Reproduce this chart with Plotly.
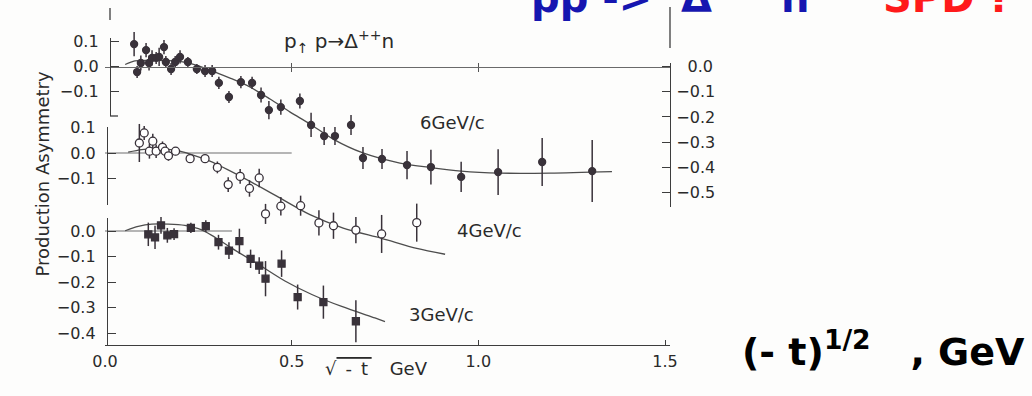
import plotly.graph_objects as go

# ---------------- data: production asymmetry vs sqrt(-t) ----------------
# 6 GeV/c (filled circles)
t6 = [0.078, 0.086, 0.096, 0.110, 0.118, 0.126, 0.137, 0.145, 0.158, 0.163,
      0.177, 0.188, 0.201, 0.222, 0.246, 0.268, 0.287, 0.305, 0.332, 0.364,
      0.394, 0.418, 0.439, 0.471, 0.522, 0.552, 0.587, 0.616, 0.659, 0.691,
      0.742, 0.809, 0.873, 0.954, 1.053, 1.171, 1.305]
asym6 = [0.089, -0.022, 0.014, 0.065, 0.014, 0.034, 0.034, 0.038, 0.077, 0.018,
         -0.010, 0.018, 0.038, 0.018, -0.010, -0.018, -0.018, -0.065, -0.121, -0.062,
         -0.065, -0.113, -0.173, -0.161, -0.137, -0.232, -0.276, -0.276, -0.232, -0.363,
         -0.367, -0.391, -0.399, -0.438, -0.419, -0.379, -0.415]
err6 = [0.048, 0.024, 0.030, 0.028, 0.030, 0.030, 0.024, 0.036, 0.028, 0.024,
        0.024, 0.024, 0.026, 0.020, 0.020, 0.024, 0.024, 0.024, 0.024, 0.024,
        0.024, 0.030, 0.036, 0.030, 0.030, 0.048, 0.036, 0.036, 0.040, 0.044,
        0.040, 0.056, 0.069, 0.060, 0.091, 0.095, 0.123]

# 4 GeV/c (open circles)
t4 = [0.092, 0.105, 0.119, 0.128, 0.137, 0.154, 0.161, 0.170, 0.189, 0.228,
      0.268, 0.301, 0.330, 0.362, 0.387, 0.413, 0.430, 0.471, 0.524, 0.573,
      0.612, 0.672, 0.741, 0.835]
asym4 = [0.039, 0.078, 0.007, 0.046, 0.007, 0.022, 0.007, -0.011, 0.007, -0.022,
         -0.022, -0.056, -0.123, -0.091, -0.138, -0.097, -0.237, -0.207, -0.205, -0.272,
         -0.283, -0.300, -0.315, -0.271]
err4 = [0.074, 0.027, 0.029, 0.029, 0.026, 0.023, 0.019, 0.019, 0.016, 0.016,
        0.016, 0.023, 0.029, 0.029, 0.032, 0.036, 0.039, 0.036, 0.039, 0.049,
        0.051, 0.051, 0.074, 0.074]

# 3 GeV/c (filled squares)
t3 = [0.116, 0.134, 0.150, 0.167, 0.185, 0.230, 0.270, 0.304, 0.332, 0.360,
      0.390, 0.413, 0.430, 0.473, 0.516, 0.585, 0.672]
asym3 = [-0.013, -0.025, 0.022, -0.017, -0.012, 0.012, 0.019, -0.044, -0.077, -0.040,
         -0.109, -0.136, -0.187, -0.128, -0.259, -0.279, -0.354]
err3 = [0.046, 0.046, 0.033, 0.029, 0.023, 0.020, 0.023, 0.029, 0.033, 0.049,
        0.036, 0.033, 0.069, 0.052, 0.049, 0.065, 0.082]

# fitted curves
fit6_t = [0.054, 0.080, 0.121, 0.188, 0.228, 0.281, 0.335, 0.388, 0.442, 0.496,
          0.549, 0.611, 0.691, 0.790, 0.873, 0.954, 1.058, 1.192, 1.358]
fit6_a = [0.008, 0.022, 0.024, 0.022, 0.012, -0.014, -0.046, -0.081, -0.129, -0.181,
          -0.228, -0.288, -0.343, -0.383, -0.401, -0.415, -0.423, -0.423, -0.417]
fit4_t = [0.062, 0.098, 0.138, 0.188, 0.228, 0.281, 0.371, 0.460, 0.549, 0.638,
          0.741, 0.835, 0.911]
fit4_a = [0.003, 0.013, 0.017, 0.011, -0.004, -0.032, -0.097, -0.168, -0.240, -0.292,
          -0.332, -0.371, -0.394]
fit3_t = [0.054, 0.089, 0.125, 0.170, 0.214, 0.250, 0.286, 0.339, 0.411, 0.482,
          0.554, 0.634, 0.723, 0.750]
fit3_a = [0.001, 0.018, 0.027, 0.027, 0.022, 0.009, -0.017, -0.067, -0.131, -0.196,
          -0.249, -0.296, -0.341, -0.355]

# zero reference lines of the 4 and 3 GeV/c panels
zero4_t = [0.0, 0.50]
zero3_t = [0.0, 0.34]

# ---------------- geometry ----------------
W, H = 1032, 396
ML, MR = 105, 362
X_SCALE = 373.33                      # px per GeV
X_MAX = (W - ML - MR) / X_SCALE

# pixel row of zero asymmetry and px per unit asymmetry for each panel
PANEL = {'6': (66.5, 252.0), '4': (153.0, 257.0), '3': (231.0, 255.0)}


def yfrac(py):
    return 1 - py / H


def xfrac(px):
    return (px - ML) / (W - ML - MR)


def full_range(p):
    z, s = PANEL[p]
    return [(z - H) / s, z / s]


def part_range(p, top, bottom):
    z, s = PANEL[p]
    return [(z - bottom) / s, (z - top) / s]


INK = '#39323a'
CURVE = '#4d4d4d'
AXC = '#3d3d3d'
TXT = '#2a2a2a'
FONT = 'DejaVu Sans'

fig = go.Figure()


def points(t, a, e, yaxis, symbol, fill, size):
    fig.add_trace(go.Scatter(
        x=t, y=a, mode='markers', xaxis='x', yaxis=yaxis,
        marker=dict(symbol=symbol, size=size, color=fill,
                    line=dict(color=INK, width=1.3)),
        error_y=dict(type='data', array=e, visible=True, color=INK,
                     thickness=1.5, width=0),
        showlegend=False, hoverinfo='skip'))


def curve(t, a, yaxis, color=CURVE, width=1.3, spline=True):
    fig.add_trace(go.Scatter(
        x=t, y=a, mode='lines', xaxis='x', yaxis=yaxis,
        line=dict(color=color, width=width,
                  shape='spline' if spline else 'linear', smoothing=0.8),
        showlegend=False, hoverinfo='skip'))


# zero lines (4 and 3 GeV/c)
curve(zero4_t, [0.0] * len(zero4_t), 'y2', color='#6e6e6e', width=1.2, spline=False)
curve(zero3_t, [0.0] * len(zero3_t), 'y3', color='#6e6e6e', width=1.2, spline=False)

# fits
curve(fit6_t, fit6_a, 'y')
curve(fit4_t, fit4_a, 'y2')
curve(fit3_t, fit3_a, 'y3')

# measurements
points(t6, asym6, err6, 'y', 'circle', INK, 7)
points(t4, asym4, err4, 'y2', 'circle', 'white', 8)
points(t3, asym3, err3, 'y3', 'square', INK, 7)

# empty traces so the decorative axes get their own subplots
for xa, ya in [('x2', 'y'), ('x3', 'y'), ('x', 'y4'), ('x', 'y5'), ('x', 'y6'), ('x', 'y7')]:
    fig.add_trace(go.Scatter(x=[None], y=[None], xaxis=xa, yaxis=ya,
                             showlegend=False, hoverinfo='skip'))

tickfont = dict(family=FONT, size=16, color=TXT)
MINUS = '\u2212'


def fmt(v):
    return (MINUS if v < 0 else '') + '%.1f' % abs(v)


def left_axis(p, top, bottom, vals, px):
    return dict(domain=[yfrac(bottom), yfrac(top)], range=part_range(p, top, bottom),
                anchor='free', position=xfrac(px), side='left',
                showline=True, linecolor=AXC, linewidth=1.3,
                ticks='inside', ticklen=8, tickwidth=1.3, tickcolor=AXC,
                tickvals=vals, ticktext=[fmt(v) for v in vals],
                tickfont=tickfont, ticklabelstandoff=8,
                showgrid=False, zeroline=False, automargin=False)


right_vals = [0.0, -0.1, -0.2, -0.3, -0.4, -0.5]
right_text = ['\u2002\u20090.0'] + [fmt(v) for v in right_vals[1:]]

fig.update_layout(
    width=W, height=H,
    margin=dict(l=ML, r=MR, t=0, b=0, autoexpand=False),
    paper_bgcolor='#fdfdfc', plot_bgcolor='rgba(0,0,0,0)',
    showlegend=False,
    xaxis=dict(domain=[0, 1], range=[0, X_MAX], anchor='free', position=yfrac(345),
               showline=True, linecolor=AXC, linewidth=1.3,
               ticks='inside', ticklen=5, tickwidth=1.3, tickcolor=AXC,
               tickvals=[0.0, 0.5, 1.0, 1.5], ticktext=['0.0', '0.5', '1.0', '1.5'],
               tickfont=tickfont, ticklabelstandoff=2,
               showgrid=False, zeroline=False, automargin=False),
    # 6 GeV/c zero line with its tick marks
    xaxis2=dict(overlaying='x', range=[0, X_MAX], anchor='free',
                position=yfrac(PANEL['6'][0]),
                showline=True, linecolor='#6a6a6a', linewidth=1.2,
                ticks='outside', ticklen=4, tickwidth=1.2, tickcolor='#555',
                tickvals=[0.5, 1.0], showticklabels=False,
                showgrid=False, zeroline=False),
    xaxis3=dict(overlaying='x', range=[0, X_MAX], anchor='free',
                position=yfrac(PANEL['6'][0]), showline=False,
                ticks='inside', ticklen=4, tickwidth=1.2, tickcolor='#555',
                tickvals=[0.5, 1.0], showticklabels=False,
                showgrid=False, zeroline=False),
    yaxis=dict(domain=[0, 1], range=full_range('6'), visible=False),
    yaxis2=dict(overlaying='y', range=full_range('4'), visible=False),
    yaxis3=dict(overlaying='y', range=full_range('3'), visible=False),
    yaxis4=left_axis('6', 38, 116, [0.1, 0.0, -0.1], 110),
    yaxis5=left_axis('4', 127, 205, [0.1, 0.0, -0.1], 107),
    yaxis6=left_axis('3', 218, 345, [0.0, -0.1, -0.2, -0.3, -0.4], 107),
    yaxis7=dict(domain=[yfrac(207), yfrac(63)], range=part_range('6', 63, 207),
                anchor='free', position=1.0, side='right',
                showline=True, linecolor=AXC, linewidth=1.3,
                ticks='inside', ticklen=8, tickwidth=1.3, tickcolor=AXC,
                tickvals=right_vals, ticktext=right_text,
                tickfont=tickfont, ticklabelstandoff=2,
                showgrid=False, zeroline=False, automargin=False),
)

# small axis stubs: bracket foot of the top panel and marks above it
z6, s6 = PANEL['6']
fig.add_shape(type='line', xref='paper', yref='paper', x0=xfrac(110), x1=xfrac(118),
              y0=yfrac(116), y1=yfrac(116), line=dict(color=AXC, width=1.3))
fig.add_shape(type='line', xref='paper', yref='paper', x0=1.0, x1=1.0,
              y0=yfrac(48), y1=yfrac(7), line=dict(color=AXC, width=1.3))
fig.add_shape(type='line', xref='paper', yref='paper', x0=xfrac(110), x1=xfrac(110),
              y0=yfrac(20), y1=yfrac(8), line=dict(color=AXC, width=1.3))

lab = dict(family=FONT, size=18, color=TXT)
ann = [
    dict(text='6GeV/c', x=0.932, y=(z6 - 122) / s6, xref='x', yref='y', font=lab),
    dict(text='4GeV/c', x=1.029, y=-0.300, xref='x', yref='y2', font=lab),
    dict(text='3GeV/c', x=0.900, y=-0.329, xref='x', yref='y3', font=lab),
    dict(text='p<sub>\u2191</sub> p\u2192\u0394<sup>++</sup>n', x=xfrac(339), y=yfrac(25),
         xref='paper', yref='paper', font=dict(family=FONT, size=20, color=TXT)),
    dict(text='Production Asymmetry', textangle=-90, x=xfrac(29), y=yfrac(174),
         xref='paper', yref='paper', font=dict(family=FONT, size=18, color=TXT)),
    dict(text='\u221a<span style="text-decoration:overline">\u2002-\u2002t\u2009</span>\u2003GeV',
         x=xfrac(376), y=yfrac(381), xref='paper', yref='paper',
         font=dict(family=FONT, size=18, color=TXT)),
]
for a in ann:
    a.setdefault('showarrow', False)
    fig.add_annotation(**a)

# slide overlay text (runs off the top edge)
BLUE = '#1616b0'
RED = '#ff1a1a'
for text, px, col in [('pp -&gt;', 529, BLUE), ('\u0394', 679, BLUE),
                      ('n', 779, BLUE), ('SPD ?', 881, RED)]:
    fig.add_annotation(text=text, x=xfrac(px), y=yfrac(-2), xref='paper', yref='paper',
                       xanchor='left', yanchor='middle', showarrow=False,
                       font=dict(family=FONT, size=40, color=col, weight='bold'))
fig.add_annotation(text='++', x=xfrac(722), y=yfrac(-16), xref='paper', yref='paper',
                   xanchor='left', yanchor='middle', showarrow=False,
                   font=dict(family=FONT, size=26, color=BLUE, weight='bold'))
fig.add_annotation(text='(- t)<sup>1/2</sup> \u2002\u2009, GeV', x=xfrac(740), y=yfrac(349),
                   xref='paper', yref='paper', xanchor='left', yanchor='middle',
                   showarrow=False,
                   font=dict(family=FONT, size=38, color='black', weight='bold'))

fig.write_html('out.html')
